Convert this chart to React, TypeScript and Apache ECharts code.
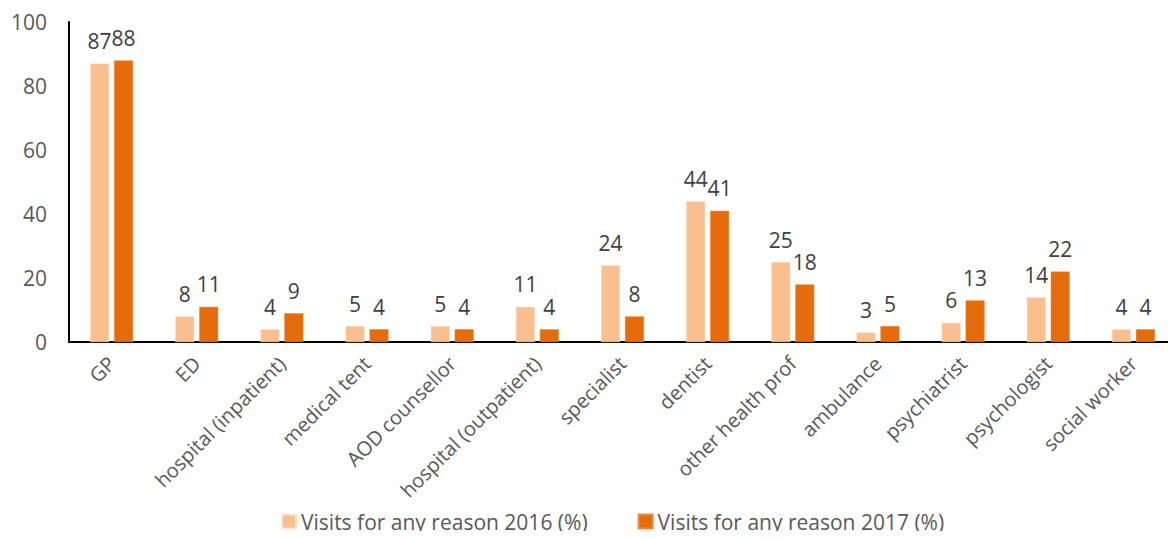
import React, { useEffect, useRef } from "react";
import * as echarts from "echarts";

const categories = [
  "GP",
  "ED",
  "hospital (inpatient)",
  "medical tent",
  "AOD counsellor",
  "hospital (outpatient)",
  "specialist",
  "dentist",
  "other health prof",
  "ambulance",
  "psychiatrist",
  "psychologist",
  "social worker",
];
const values2016 = [87, 8, 4, 5, 5, 11, 24, 44, 25, 3, 6, 14, 4];
const values2017 = [88, 11, 9, 4, 4, 4, 8, 41, 18, 5, 13, 22, 4];
const seriesNames = ["Visits for any reason 2016 (%)", "Visits for any reason 2017 (%)"];
const yTicks = { min: 0, max: 100, interval: 20 };

const FONT = "'Open Sans', 'Noto Sans', sans-serif";

export default function App() {
  const ref = useRef<HTMLDivElement>(null);
  useEffect(() => {
    if (!ref.current) return;
    const chart = echarts.init(ref.current, undefined, { renderer: "svg" });
    const label = {
      show: true,
      position: "top" as const,
      distance: 12,
      color: "#404040",
      fontSize: 21,
      fontFamily: FONT,
    };
    chart.setOption({
      animation: false,
      textStyle: { fontFamily: FONT },
      grid: { left: 69, top: 22, width: 1121, height: 320, containLabel: false },
      legend: {
        bottom: 2,
        left: 276,
        itemWidth: 14,
        itemHeight: 14,
        itemGap: 50,
        icon: "rect",
        textStyle: { color: "#595959", fontSize: 21, fontFamily: FONT },
        data: seriesNames,
      },
      xAxis: {
        type: "category",
        data: categories,
        axisLine: { lineStyle: { color: "#000", width: 2 } },
        axisTick: { show: false },
        axisLabel: {
          rotate: 45,
          color: "#595959",
          fontSize: 20,
          fontFamily: FONT,
          interval: 0,
          margin: 18,
        },
      },
      yAxis: {
        type: "value",
        min: yTicks.min,
        max: yTicks.max,
        interval: yTicks.interval,
        axisLine: { show: true, lineStyle: { color: "#000", width: 2 } },
        axisTick: { show: false },
        splitLine: { show: false },
        axisLabel: { color: "#595959", fontSize: 21, fontFamily: FONT, margin: 22 },
      },
      series: [
        {
          name: seriesNames[0],
          type: "bar",
          data: values2016,
          barWidth: 19,
          barGap: "26%",
          itemStyle: { color: "#F9BF8F", borderColor: "#FFE3CC", borderWidth: 0.5 },
          label,
        },
        {
          name: seriesNames[1],
          type: "bar",
          data: values2017,
          barWidth: 19,
          barGap: "26%",
          itemStyle: { color: "#E46C0A", borderColor: "#F08A3A", borderWidth: 0.5 },
          label,
        },
      ],
    });
    return () => chart.dispose();
  }, []);
  return <div ref={ref} style={{ width: 1176, height: 539, margin: -8 }} />;
}
